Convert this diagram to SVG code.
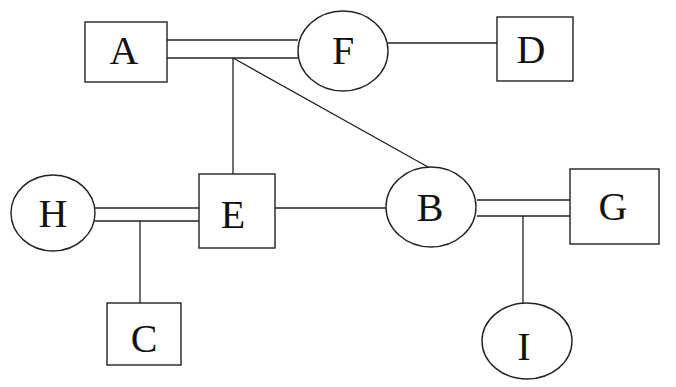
<svg xmlns="http://www.w3.org/2000/svg" width="676" height="387" viewBox="0 0 676 387">
<style>
.n{fill:#fff;stroke:#222;stroke-width:1.4}
.c line{stroke:#222;stroke-width:1.3}
text{font-family:"Liberation Serif","Times New Roman",serif;font-size:40px;fill:#111;text-anchor:middle}
</style>
<rect width="676" height="387" fill="#fff"/>
<g class="c" id="connectors">
<line x1="167" y1="40" x2="298" y2="40"/>
<line x1="167" y1="58" x2="298" y2="58"/>
<line x1="233" y1="58" x2="233" y2="174"/>
<line x1="233" y1="58" x2="428" y2="167"/>
<line x1="388" y1="43" x2="497" y2="43"/>
<line x1="95" y1="208" x2="199" y2="208"/>
<line x1="95" y1="221" x2="199" y2="221"/>
<line x1="140" y1="221" x2="140" y2="303"/>
<line x1="275" y1="208" x2="386" y2="208"/>
<line x1="477" y1="200" x2="570" y2="200"/>
<line x1="477" y1="216" x2="570" y2="216"/>
<line x1="523" y1="216" x2="523" y2="303"/>
</g>
<g id="A"><rect class="n" x="85" y="22" width="82" height="60"/><text x="124" y="64">A</text></g>
<g id="F"><ellipse class="n" cx="343" cy="51" rx="45" ry="40"/><text x="343" y="64">F</text></g>
<g id="D"><rect class="n" x="497" y="17" width="76" height="64"/><text x="531" y="63">D</text></g>
<g id="H"><ellipse class="n" cx="53" cy="213" rx="42" ry="38"/><text x="53" y="227">H</text></g>
<g id="E"><rect class="n" x="199" y="174" width="76" height="74"/><text x="233" y="228">E</text></g>
<g id="B"><ellipse class="n" cx="431" cy="207" rx="45" ry="40"/><text x="430" y="221">B</text></g>
<g id="G"><rect class="n" x="570" y="169" width="89" height="75"/><text x="613" y="220">G</text></g>
<g id="C"><rect class="n" x="107" y="303" width="74" height="62"/><text x="144" y="352">C</text></g>
<g id="I"><ellipse class="n" cx="527" cy="341" rx="45" ry="38"/><text x="524" y="360">I</text></g>
</svg>
